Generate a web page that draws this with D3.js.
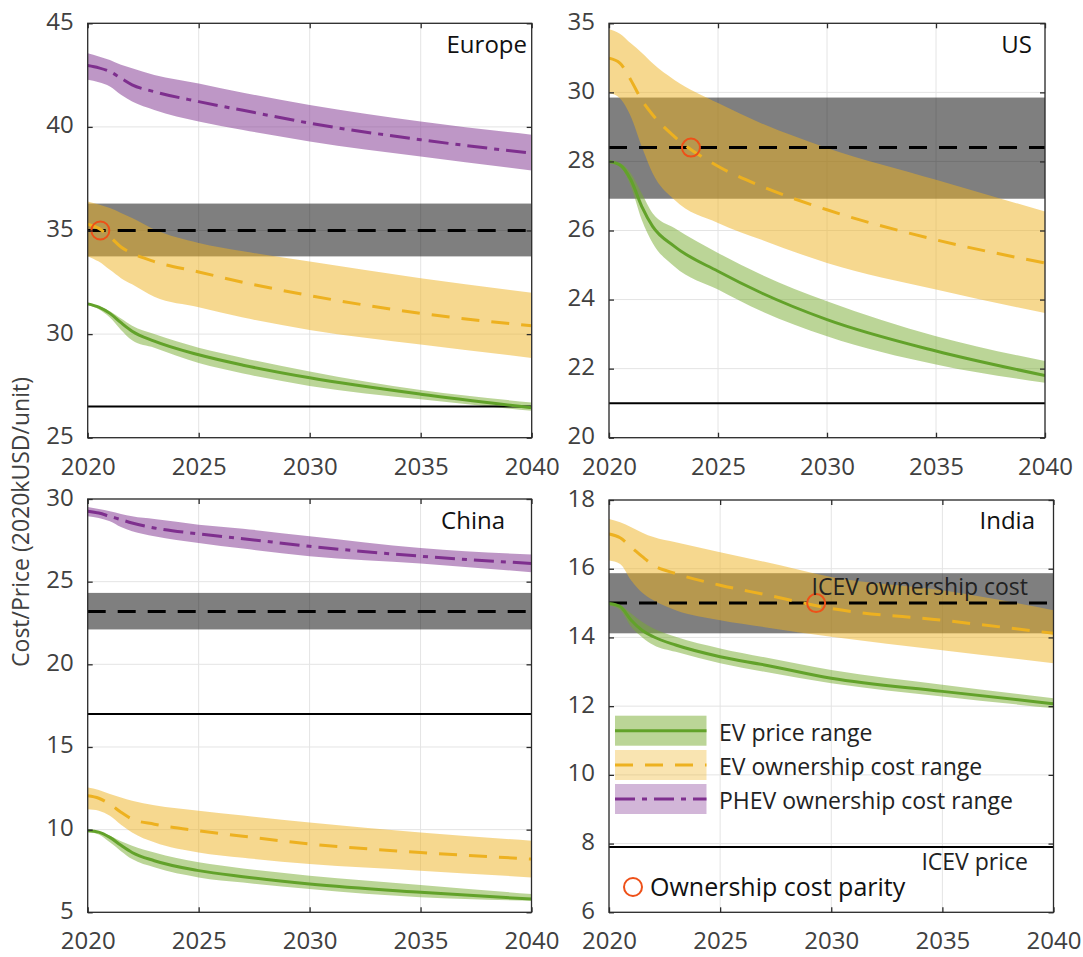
<!DOCTYPE html>
<html><head><meta charset="utf-8">
<script src="https://cdn.jsdelivr.net/npm/d3@7"></script>
<style>
body{margin:0;background:#fff}
svg{display:block}
text{font-family:'Open Sans',sans-serif}
</style>
</head><body>
<svg id="c" width="1083" height="957"></svg>
<script>
// ---------- DATA ----------
const years = [2020, 2020.5, 2021, 2021.5, 2022, 2023, 2025, 2027, 2030, 2035, 2040];
const xTicks = [2020, 2025, 2030, 2035, 2040];

// Europe
const euEvPrice   = [31.46, 31.3, 31.0, 30.55, 30.14, 29.66, 29.0, 28.5, 27.89, 27.1, 26.45];
const euEvPriceHi = [31.46, 31.35, 31.1, 30.75, 30.4, 30.0, 29.34, 28.85, 28.2, 27.3, 26.7];
const euEvPriceLo = [31.4, 31.2, 30.8, 30.2, 29.7, 29.34, 28.6, 28.1, 27.5, 26.85, 26.3];
const euEvOwn     = [35.3, 35.1, 34.7, 34.2, 33.9, 33.5, 33.0, 32.5, 31.86, 31.0, 30.4];
const euEvOwnHi   = [36.4, 36.25, 36.08, 35.85, 35.6, 35.05, 34.4, 34.0, 33.5, 32.7, 32.0];
const euEvOwnLo   = [33.75, 33.5, 33.1, 32.7, 32.4, 31.8, 31.3, 30.8, 30.2, 29.5, 28.85];
const euPhev      = [42.96, 42.85, 42.67, 42.35, 42.03, 41.7, 41.22, 40.8, 40.18, 39.38, 38.73];
const euPhevHi    = [43.55, 43.4, 43.23, 43.0, 42.83, 42.51, 42.1, 41.65, 41.06, 40.26, 39.62];
const euPhevLo    = [42.27, 42.15, 41.95, 41.55, 41.22, 40.82, 40.26, 39.85, 39.3, 38.57, 37.9];
const euIcevOwn   = [33.75, 35.0, 36.3];   // low, mid, high
const euIcevPrice = 26.5;
const euParity    = [2020.57, 35.0];
const euYTicks    = [25, 30, 35, 40, 45];
const euYLabels   = ["25", "30", "35", "40", "45"];

// US
const usEvPrice   = [28.0, 27.9, 27.47, 26.7, 26.12, 25.54, 24.82, 24.19, 23.42, 22.51, 21.8];
const usEvPriceHi = [28.0, 27.95, 27.66, 27.08, 26.5, 26.07, 25.35, 24.72, 23.95, 22.94, 22.22];
const usEvPriceLo = [27.95, 27.85, 27.28, 26.31, 25.64, 24.96, 24.29, 23.66, 22.94, 22.12, 21.59];
const usEvOwn     = [30.99, 30.85, 30.36, 29.78, 29.35, 28.72, 27.86, 27.28, 26.6, 25.73, 25.06];
const usEvOwnHi   = [31.83, 31.7, 31.42, 31.15, 30.84, 30.36, 29.69, 29.1, 28.39, 27.47, 26.55];
const usEvOwnLo   = [29.98, 29.83, 29.3, 28.43, 27.66, 26.89, 26.22, 25.73, 25.06, 24.29, 23.61];
const usIcevOwn   = [26.92, 28.4, 29.85];
const usIcevPrice = 21.0;
const usParity    = [2023.76, 28.4];
const usYTicks    = [20, 22, 24, 26, 28, 30, 32];
const usYLabels   = ["20", "22", "24", "26", "28", "30", "35"];

// China
const cnEvPrice   = [9.93, 9.85, 9.53, 9.05, 8.62, 8.12, 7.52, 7.15, 6.71, 6.21, 5.8];
const cnEvPriceHi = [9.93, 9.88, 9.63, 9.3, 9.03, 8.62, 8.02, 7.65, 7.21, 6.65, 6.1];
const cnEvPriceLo = [9.85, 9.7, 9.23, 8.7, 8.22, 7.72, 7.11, 6.8, 6.41, 5.91, 5.7];
const cnEvOwn     = [12.05, 11.9, 11.54, 11.05, 10.64, 10.33, 9.93, 9.6, 9.13, 8.62, 8.22];
const cnEvOwnHi   = [12.55, 12.4, 12.15, 11.95, 11.74, 11.48, 11.14, 10.85, 10.43, 9.83, 9.33];
const cnEvOwnLo   = [11.24, 11.15, 10.84, 10.3, 9.83, 9.23, 8.62, 8.3, 7.92, 7.52, 7.11];
const cnPhev      = [29.26, 29.15, 28.95, 28.75, 28.55, 28.25, 27.89, 27.6, 27.14, 26.54, 26.1];
const cnPhevHi    = [29.52, 29.4, 29.26, 29.1, 28.95, 28.79, 28.45, 28.2, 27.75, 27.04, 26.64];
const cnPhevLo    = [28.95, 28.85, 28.65, 28.3, 28.05, 27.75, 27.34, 27.0, 26.54, 26.1, 25.57];
const cnIcevOwn   = [22.11, 23.2, 24.32];
const cnIcevPrice = 17.0;
const cnYTicks    = [5, 10, 15, 20, 25, 30];
const cnYLabels   = ["5", "10", "15", "20", "25", "30"];

// India
const inEvPrice   = [14.99, 14.9, 14.5, 14.2, 14.02, 13.78, 13.44, 13.2, 12.81, 12.43, 12.07];
const inEvPriceHi = [14.99, 14.93, 14.7, 14.45, 14.26, 14.02, 13.68, 13.42, 13.05, 12.62, 12.23];
const inEvPriceLo = [14.94, 14.8, 14.31, 14.0, 13.78, 13.58, 13.25, 13.0, 12.67, 12.28, 11.94];
const inEvOwn     = [17.01, 16.9, 16.63, 16.35, 16.1, 15.86, 15.52, 15.25, 14.84, 14.5, 14.12];
const inEvOwnHi   = [17.45, 17.35, 17.21, 17.05, 16.92, 16.77, 16.48, 16.2, 15.76, 15.37, 14.79];
const inEvOwnLo   = [16.24, 16.14, 15.66, 15.3, 15.08, 14.79, 14.5, 14.3, 14.02, 13.63, 13.25];
const inIcevOwn   = [14.12, 15.0, 15.87];
const inIcevPrice = 7.9;
const inParity    = [2029.32, 15.0];
const inYTicks    = [6, 8, 10, 12, 14, 16, 18];
const inYLabels   = ["6", "8", "10", "12", "14", "16", "18"];

const regionNames = ["Europe", "US", "China", "India"];
const legendLabels = ["EV price range", "EV ownership cost range", "PHEV ownership cost range"];
const yAxisTitle = "Cost/Price (2020kUSD/unit)";
const icevOwnLabel = "ICEV ownership cost";
const icevPriceLabel = "ICEV price";
const parityLabel = "Ownership cost parity";

// ---------- STYLE / LAYOUT ----------
const C = {
  green: "#77AC30", greenLine: "#62a22a",
  yellow: "#EDB120", purple: "#7E2F8E",
  grid: "#e4e4e4", axis: "#2b2b2b", tickText: "#404040", parity: "#ee5018"
};
const panels = [
  {name: regionNames[0], x0: 87.7, x1: 531.7, y0: 23.3, y1: 437.7, dom: [25, 45], ticks: euYTicks, labels: euYLabels,
   title: [527, 53], price: [euEvPriceLo, euEvPrice, euEvPriceHi], own: [euEvOwnLo, euEvOwn, euEvOwnHi],
   phev: [euPhevLo, euPhev, euPhevHi], icevOwn: euIcevOwn, icevPrice: euIcevPrice, parity: euParity},
  {name: regionNames[1], x0: 609, x1: 1045, y0: 23.3, y1: 437.7, dom: [20, 32], ticks: usYTicks, labels: usYLabels,
   title: [1032, 53], price: [usEvPriceLo, usEvPrice, usEvPriceHi], own: [usEvOwnLo, usEvOwn, usEvOwnHi],
   phev: null, icevOwn: usIcevOwn, icevPrice: usIcevPrice, parity: usParity},
  {name: regionNames[2], x0: 87.7, x1: 531.5, y0: 499, y1: 912.3, dom: [5, 30], ticks: cnYTicks, labels: cnYLabels,
   title: [505, 529], price: [cnEvPriceLo, cnEvPrice, cnEvPriceHi], own: [cnEvOwnLo, cnEvOwn, cnEvOwnHi],
   phev: [cnPhevLo, cnPhev, cnPhevHi], icevOwn: cnIcevOwn, icevPrice: cnIcevPrice, parity: null},
  {name: regionNames[3], x0: 609, x1: 1053.5, y0: 500, y1: 912.3, dom: [6, 18], ticks: inYTicks, labels: inYLabels,
   title: [1035, 529], price: [inEvPriceLo, inEvPrice, inEvPriceHi], own: [inEvOwnLo, inEvOwn, inEvOwnHi],
   phev: null, icevOwn: inIcevOwn, icevPrice: inIcevPrice, parity: inParity, legend: true}
];

const svg = d3.select("#c");
const defs = svg.append("defs");

panels.forEach((p, pi) => {
  const x = d3.scaleLinear().domain([2020, 2040]).range([p.x0, p.x1]);
  const y = d3.scaleLinear().domain(p.dom).range([p.y1, p.y0]);
  const g = svg.append("g");
  const clipId = "clip" + pi;
  defs.append("clipPath").attr("id", clipId).append("rect")
    .attr("x", p.x0).attr("y", p.y0).attr("width", p.x1 - p.x0).attr("height", p.y1 - p.y0);

  // grid
  const grid = g.append("g").attr("stroke", C.grid).attr("stroke-width", 1);
  grid.selectAll(".gx").data(xTicks).join("line")
    .attr("x1", d => x(d)).attr("x2", d => x(d)).attr("y1", p.y0).attr("y2", p.y1);
  grid.selectAll(".gy").data(p.ticks).join("line")
    .attr("x1", p.x0).attr("x2", p.x1).attr("y1", d => y(d)).attr("y2", d => y(d));

  const pg = g.append("g").attr("clip-path", `url(#${clipId})`);

  // ICEV ownership band
  pg.append("rect").attr("x", p.x0).attr("width", p.x1 - p.x0)
    .attr("y", y(p.icevOwn[2])).attr("height", y(p.icevOwn[0]) - y(p.icevOwn[2]))
    .attr("fill", "#000").attr("fill-opacity", 0.5);

  const area = d3.area().x(d => x(d.x)).y0(d => y(d.lo)).y1(d => y(d.hi)).curve(d3.curveMonotoneX);
  const line = d3.line().x(d => x(d.x)).y(d => y(d.v)).curve(d3.curveMonotoneX);
  const rows = s => years.map((yr, i) => ({x: yr, lo: s[0][i], v: s[1][i], hi: s[2][i]}));

  const series = [
    {s: p.price, col: C.green, lineCol: C.greenLine, dash: null},
    {s: p.own, col: C.yellow, lineCol: C.yellow, dash: "18,12"},
    {s: p.phev, col: C.purple, lineCol: C.purple, dash: "20,7,5,7"}
  ].filter(d => d.s);

  series.forEach(sr => {
    pg.append("path").datum(rows(sr.s)).attr("d", area).attr("fill", sr.col).attr("fill-opacity", 0.5);
  });

  // ICEV price line
  pg.append("line").attr("x1", p.x0).attr("x2", p.x1)
    .attr("y1", y(p.icevPrice)).attr("y2", y(p.icevPrice))
    .attr("stroke", "#000").attr("stroke-width", 2);
  // ICEV ownership mid dashed
  pg.append("line").attr("x1", p.x0).attr("x2", p.x1)
    .attr("y1", y(p.icevOwn[1])).attr("y2", y(p.icevOwn[1]))
    .attr("stroke", "#000").attr("stroke-width", 3).attr("stroke-dasharray", "18,12");

  series.forEach(sr => {
    pg.append("path").datum(rows(sr.s)).attr("d", line).attr("fill", "none")
      .attr("stroke", sr.lineCol).attr("stroke-width", 3)
      .attr("stroke-dasharray", sr.dash);
  });

  if (p.parity) {
    g.append("circle").attr("cx", x(p.parity[0])).attr("cy", y(p.parity[1])).attr("r", 9)
      .attr("fill", "none").attr("stroke", C.parity).attr("stroke-width", 2);
  }

  // axes box
  g.append("rect").attr("x", p.x0).attr("y", p.y0).attr("width", p.x1 - p.x0).attr("height", p.y1 - p.y0)
    .attr("fill", "none").attr("stroke", C.axis).attr("stroke-width", 1.3);

  const styleAxis = sel => {
    sel.select(".domain").remove();
    sel.selectAll(".tick line").attr("stroke", C.axis).attr("stroke-width", 1.3);
    sel.selectAll(".tick text").attr("fill", C.tickText).attr("font-size", 24)
      .attr("font-family", "'Open Sans',sans-serif");
  };
  g.append("g").attr("transform", `translate(${p.x0},0)`)
    .call(d3.axisLeft(y).tickValues(p.ticks).tickFormat((d, i) => p.labels[i]).tickSize(-5).tickPadding(14))
    .call(styleAxis)
    .call(s => s.selectAll(".tick text").attr("dy", "0.25em"));
  g.append("g").attr("transform", `translate(${p.x1},0)`)
    .call(d3.axisRight(y).tickValues(p.ticks).tickFormat("").tickSize(-5))
    .call(styleAxis);
  g.append("g").attr("transform", `translate(0,${p.y1})`)
    .call(d3.axisBottom(x).tickValues(xTicks).tickFormat(d3.format("d")).tickSize(-5).tickPadding(20))
    .call(styleAxis);
  g.append("g").attr("transform", `translate(0,${p.y0})`)
    .call(d3.axisTop(x).tickValues(xTicks).tickFormat("").tickSize(-5))
    .call(styleAxis);

  // title
  g.append("text").attr("x", p.title[0]).attr("y", p.title[1]).attr("text-anchor", "end")
    .attr("font-size", 24).attr("fill", "#111").text(p.name);

  if (p.legend) {
    const lg = g.append("g");
    const items = [
      {lab: legendLabels[0], col: C.green, lineCol: C.greenLine, dash: null, op: 0.5, y: 715.7},
      {lab: legendLabels[1], col: C.yellow, lineCol: C.yellow, dash: "18,12", op: 0.35, y: 750},
      {lab: legendLabels[2], col: C.purple, lineCol: C.purple, dash: "20,7,5,7", op: 0.35, y: 784}
    ];
    items.forEach(it => {
      lg.append("rect").attr("x", 615).attr("y", it.y).attr("width", 91.5).attr("height", 30)
        .attr("fill", it.col).attr("fill-opacity", it.op);
      lg.append("line").attr("x1", 615).attr("x2", 706.5).attr("y1", it.y + 15).attr("y2", it.y + 15)
        .attr("stroke", it.lineCol).attr("stroke-width", 3).attr("stroke-dasharray", it.dash);
      lg.append("text").attr("x", 719).attr("y", it.y + 25).attr("font-size", 23).attr("fill", "#222").text(it.lab);
    });
    g.append("text").attr("x", 1028).attr("y", 595).attr("text-anchor", "end")
      .attr("font-size", 23).attr("fill", "#222").text(icevOwnLabel);
    g.append("text").attr("x", 1028).attr("y", 870).attr("text-anchor", "end")
      .attr("font-size", 23).attr("fill", "#222").text(icevPriceLabel);
    g.append("circle").attr("cx", 633).attr("cy", 887).attr("r", 9)
      .attr("fill", "none").attr("stroke", C.parity).attr("stroke-width", 2);
    g.append("text").attr("x", 650).attr("y", 896).attr("font-size", 25).attr("fill", "#111").text(parityLabel);
  }
});

svg.append("text").attr("transform", "translate(29,522) rotate(-90)").attr("text-anchor", "middle")
  .attr("font-size", 23).attr("fill", C.tickText).text(yAxisTitle);
</script>
</body></html>
